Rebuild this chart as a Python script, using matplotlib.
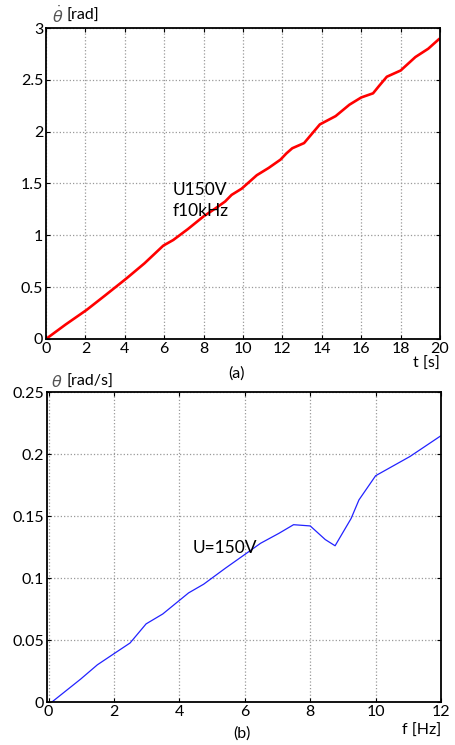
import matplotlib
matplotlib.use("Agg")
import matplotlib.pyplot as plt

plt.rcParams['font.family'] = ['Lato', 'DejaVu Sans']
plt.rcParams['font.size'] = 11.5
plt.rcParams['mathtext.fontset'] = 'dejavusans'

# (a) angle vs time
t = [0, 1.0, 2.06, 3.0, 4.09, 5.0, 5.95, 6.46, 7.2, 7.98, 8.6, 9.09, 9.42, 9.93,
     10.7, 11.3, 11.9, 12.2, 12.5, 13.1, 13.5, 13.9, 14.7, 15.4, 16.0, 16.6,
     16.9, 17.3, 18.0, 18.75, 19.4, 19.93]
theta = [0, 0.14, 0.28, 0.42, 0.585, 0.73, 0.90, 0.955, 1.06, 1.18, 1.26, 1.326,
         1.39, 1.45, 1.58, 1.65, 1.73, 1.79, 1.84, 1.89, 1.98, 2.07, 2.15, 2.26,
         2.33, 2.37, 2.44, 2.53, 2.59, 2.72, 2.80, 2.89]

# (b) angular velocity vs frequency
f = [0.1, 0.98, 1.49, 2.0, 2.49, 2.98, 3.49, 4.28, 4.74, 5.41, 6.0, 6.48, 7.04,
     7.49, 8.0, 8.46, 8.76, 9.25, 9.49, 10.0, 11.05, 12.0]
omega = [0.0, 0.0185, 0.030, 0.039, 0.0476, 0.063, 0.071, 0.088, 0.095, 0.108,
         0.119, 0.128, 0.136, 0.143, 0.142, 0.131, 0.126, 0.148, 0.163, 0.1825,
         0.198, 0.2148]

fig = plt.figure(figsize=(4.55, 7.45), dpi=100)
ax1 = fig.add_axes([0.1011, 0.545, 0.866, 0.4174])
ax2 = fig.add_axes([0.1033, 0.0577, 0.866, 0.4161])

for ax in (ax1, ax2):
    ax.grid(True, linestyle=':', color='#999999', linewidth=0.9)
    ax.tick_params(direction='in', length=3, top=True, right=True, pad=2)
    for s in ax.spines.values():
        s.set_linewidth(1.3)

ax1.plot(t, theta, color='red', linewidth=1.9)
ax1.set_xlim(0, 20)
ax1.set_ylim(0, 3)
ax1.set_xticks(range(0, 21, 2))
ax1.set_yticks([0, 0.5, 1, 1.5, 2, 2.5, 3])
ax1.set_yticklabels(['0', '0.5', '1', '1.5', '2', '2.5', '3'])
ax1.text(6.43, 1.44, 'U150V', fontsize=12.5, va='center')
ax1.text(6.43, 1.23, 'f10kHz', fontsize=12.5, va='center')
fig.text(52 / 455, 1 - 15 / 745, r'$\dot{\theta}$', va='center', color='#555555', fontsize=11.5)
fig.text(67 / 455, 1 - 16 / 745, '[rad]', va='center')
fig.text(440 / 455, 1 - 364 / 745, 't [s]', ha='right', va='center')
fig.text(236 / 455, 1 - 374 / 745, '(a)', ha='center', va='center')

ax2.plot(f, omega, color='#2222ff', linewidth=0.9)
ax2.set_xlim(-0.05, 12)
ax2.set_ylim(0, 0.25)
ax2.set_xticks(range(0, 13, 2))
ax2.set_yticks([0, 0.05, 0.1, 0.15, 0.2, 0.25])
ax2.set_yticklabels(['0', '0.05', '0.1', '0.15', '0.2', '0.25'])
ax2.text(4.4, 0.124, 'U=150V', fontsize=12.5, va='center')
fig.text(51 / 455, 1 - 382 / 745, r'$\theta$', va='center', color='#555555', fontsize=11.5)
fig.text(66 / 455, 1 - 382 / 745, '[rad/s]', va='center')
fig.text(441 / 455, 1 - 731 / 745, 'f [Hz]', ha='right', va='center')
fig.text(242 / 455, 1 - 734 / 745, '(b)', ha='center', va='center')

fig.savefig('out.png', dpi=100)
plt.close(fig)
